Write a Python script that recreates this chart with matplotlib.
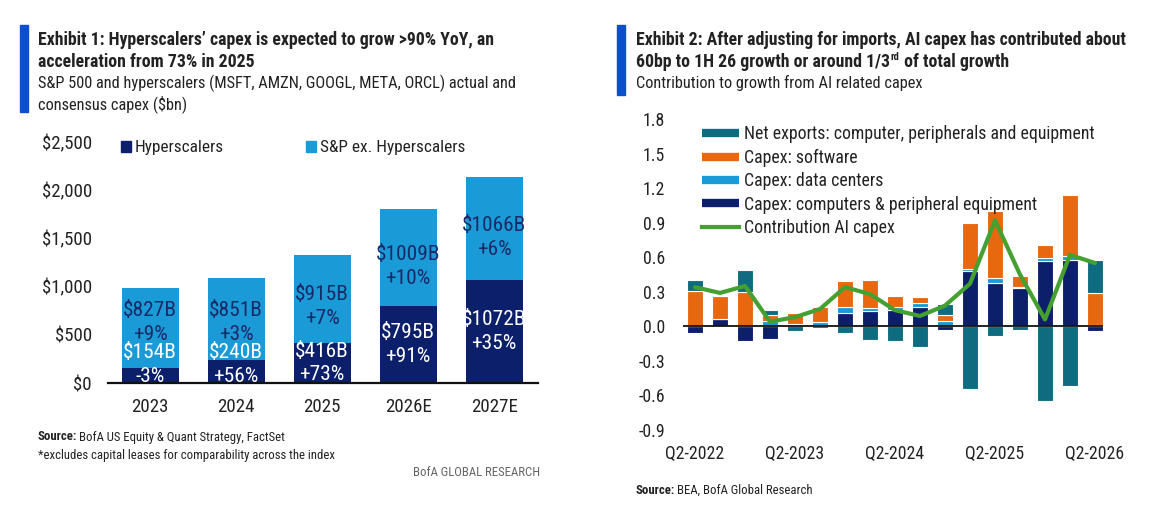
import numpy as np
import matplotlib
matplotlib.use("Agg")
import matplotlib.pyplot as plt
from matplotlib import font_manager
from matplotlib.patches import Rectangle, Patch
from matplotlib.lines import Line2D
from matplotlib.ticker import FuncFormatter

# ---------------- data ----------------
years = ["2023", "2024", "2025", "2026E", "2027E"]
hyperscalers = [154, 240, 416, 795, 1072]
hyper_growth = ["-3%", "+56%", "+73%", "+91%", "+35%"]
sp_ex_hyper = [827, 851, 915, 1009, 1066]
sp_growth = ["+9%", "+3%", "+7%", "+10%", "+6%"]

quarters = ["Q2-2022", "Q3-2022", "Q4-2022", "Q1-2023", "Q2-2023", "Q3-2023",
            "Q4-2023", "Q1-2024", "Q2-2024", "Q3-2024", "Q4-2024", "Q1-2025",
            "Q2-2025", "Q3-2025", "Q4-2025", "Q1-2026", "Q2-2026"]
capex_computers = [-0.06, 0.06, -0.13, -0.11, 0.00, 0.00, 0.12, 0.13, 0.14, 0.165,
                   -0.03, 0.48, 0.375, 0.33, 0.57, 0.58, -0.04]
capex_data_centers = [0.00, 0.00, 0.00, 0.05, 0.02, 0.035, 0.05, 0.03, 0.03, 0.035,
                      0.045, 0.02, 0.045, 0.015, 0.025, 0.03, 0.015]
capex_software = [0.31, 0.20, 0.30, 0.05, 0.10, 0.13, 0.22, 0.24, 0.09, 0.055,
                  0.055, 0.40, 0.585, 0.09, 0.11, 0.53, 0.275]
net_exports = [0.09, 0.00, 0.185, 0.045, -0.04, -0.015, -0.06, -0.12, -0.13, -0.18,
               0.095, -0.54, -0.08, -0.03, -0.65, -0.52, 0.29]
contribution_ai = [0.34, 0.29, 0.35, 0.04, 0.08, 0.15, 0.34, 0.28, 0.14, 0.09,
                   0.18, 0.37, 0.92, 0.45, 0.06, 0.62, 0.55]

# ---------------- style ----------------
NAVY = "#0c1f6b"
LBLUE = "#1a9bd7"
ORANGE = "#e8680f"
TEAL = "#0f6b80"
GREEN = "#44a030"
ACCENT = "#0a50c8"
TXT = "#222222"

# choose a narrow sans family if one is installed
avail = {f.name for f in font_manager.fontManager.ttflist}
FONT = None
for cand in ["Roboto Condensed", "Liberation Sans Narrow", "Noto Sans Condensed",
             "Open Sans Condensed", "DejaVu Sans Condensed", "Lato", "Roboto"]:
    if cand in avail:
        FONT = cand
        break
if FONT is None:
    FONT = "DejaVu Sans"
plt.rcParams["font.family"] = [FONT, "DejaVu Sans"]
plt.rcParams["axes.unicode_minus"] = False

W, H = 1166, 528
PX_PER_PT = 100 / 72.0
def fx(px):
    return px / W
def fy(py):
    return 1 - py / H

fig = plt.figure(figsize=(W / 100, H / 100), dpi=100)
fig.patch.set_facecolor("white")
R = fig.canvas.get_renderer()

def text_width(t):
    return t.get_window_extent(renderer=R).width

def fit_size(s, target_px, weight="normal"):
    t = fig.text(0, 0, s, fontsize=10, fontweight=weight)
    w = text_width(t)
    t.remove()
    return 10.0 * target_px / w

# sizes fitted to the reference's text widths
SZ_TITLE = fit_size("Exhibit 1: Hyperscalers\u2019 capex is expected to grow >90% YoY, an", 455, "bold")
SZ_SUB = fit_size("S&P 500 and hyperscalers (MSFT, AMZN, GOOGL, META, ORCL) actual and", 480)
SZ_TICK_L = fit_size("$2,500", 50)
SZ_TICK_R = fit_size("Q2-2022", 58)
SZ_LEG_L = fit_size("S&P ex. Hyperscalers", 144)
SZ_LEG_R = fit_size("Net exports: computer, peripherals and equipment", 349)
SZ_BARLAB = fit_size("$1009B", 64)
SZ_SRC = fit_size("*excludes capital leases for comparability across the index", 295)

# accent bars
fig.patches.append(Rectangle((fx(20), fy(112)), fx(8), (112 - 25) / H,
                             transform=fig.transFigure, color=ACCENT, zorder=5))
fig.patches.append(Rectangle((fx(617), fy(95)), fx(8), (95 - 25) / H,
                             transform=fig.transFigure, color=ACCENT, zorder=5))

# ---------------- left titles ----------------
fig.text(fx(38), fy(40), "Exhibit 1: Hyperscalers\u2019 capex is expected to grow >90% YoY, an",
         fontsize=SZ_TITLE, fontweight="bold", color=TXT, va="center")
fig.text(fx(38), fy(62), "acceleration from 73% in 2025",
         fontsize=SZ_TITLE, fontweight="bold", color=TXT, va="center")
fig.text(fx(38), fy(83), "S&P 500 and hyperscalers (MSFT, AMZN, GOOGL, META, ORCL) actual and",
         fontsize=SZ_SUB, color=TXT, va="center")
fig.text(fx(38), fy(104), "consensus capex ($bn)", fontsize=SZ_SUB, color=TXT, va="center")

# ---------------- left chart ----------------
ax1 = fig.add_axes([fx(108), fy(383), fx(538) - fx(108), fy(142) - fy(383)])
x1 = np.arange(len(years))
bw1 = 0.66
ax1.bar(x1, hyperscalers, width=bw1, color=NAVY, zorder=2)
ax1.bar(x1, sp_ex_hyper, bottom=hyperscalers, width=bw1, color=LBLUE, zorder=2)
ax1.set_xlim(-0.49, 4.51)
ax1.set_ylim(0, 2500)
ax1.set_yticks(np.arange(0, 2501, 500))
ax1.yaxis.set_major_formatter(FuncFormatter(lambda v, p: "${:,.0f}".format(v)))
ax1.set_xticks(x1)
ax1.set_xticklabels(years)
for s in ["top", "right", "left"]:
    ax1.spines[s].set_visible(False)
ax1.spines["bottom"].set_color("#111111")
ax1.spines["bottom"].set_linewidth(1.6)
ax1.tick_params(axis="y", length=0, labelsize=SZ_TICK_L, pad=16 / PX_PER_PT, colors=TXT)
ax1.tick_params(axis="x", length=0, labelsize=SZ_TICK_L, pad=15 / PX_PER_PT, colors=TXT)

for i in range(len(years)):
    h = hyperscalers[i]
    s = sp_ex_hyper[i]
    yh = max(h / 2, 190)
    ax1.text(x1[i], yh, "${}B\n{}".format(h, hyper_growth[i]), ha="center", va="center",
             color="white", fontsize=SZ_BARLAB, linespacing=1.3, zorder=3)
    ys = max(h + 0.41 * s, yh + 440)
    ax1.text(x1[i], ys, "${}B\n{}".format(s, sp_growth[i]), ha="center", va="center",
             color="#1b2a66", fontsize=SZ_BARLAB, linespacing=1.3, zorder=3)

em_l = SZ_LEG_L * PX_PER_PT
leg1 = ax1.legend(handles=[Patch(color=NAVY, label="Hyperscalers"),
                           Patch(color=LBLUE, label="S&P ex. Hyperscalers")],
                  loc="upper left", bbox_to_anchor=(fx(121), fy(151 - 0.62 * em_l)),
                  bbox_transform=fig.transFigure, ncol=2, frameon=False,
                  fontsize=SZ_LEG_L, handlelength=10 / em_l, handleheight=10 / em_l,
                  handletextpad=4 / em_l, columnspacing=82 / em_l,
                  borderpad=0, borderaxespad=0)
for t in leg1.get_texts():
    t.set_color(TXT)

def source_line(x_px, y_px, rest, size):
    tb = fig.text(fx(x_px), fy(y_px), "Source:", fontsize=size, fontweight="bold",
                  color=TXT, va="center")
    wb = text_width(tb)
    fig.text(fx(x_px) + (wb + 0.12 * size * PX_PER_PT) / W, fy(y_px), rest,
             fontsize=size, color=TXT, va="center")

source_line(38, 437, "BofA US Equity & Quant Strategy, FactSet", SZ_SRC)
fig.text(fx(38), fy(455), "*excludes capital leases for comparability across the index",
         fontsize=SZ_SRC, color=TXT, va="center")
fig.text(fx(540), fy(473), "BofA GLOBAL RESEARCH", fontsize=SZ_SRC, color="#666666",
         va="center", ha="right")

# ---------------- right titles ----------------
fig.text(fx(636), fy(40), "Exhibit 2: After adjusting for imports, AI capex has contributed about",
         fontsize=SZ_TITLE, fontweight="bold", color=TXT, va="center")
t_a = fig.text(fx(636), fy(62), "60bp to 1H 26 growth or around 1/3",
               fontsize=SZ_TITLE, fontweight="bold", color=TXT, va="center")
fig.text(fx(636), fy(83), "Contribution to growth from AI related capex",
         fontsize=SZ_SUB, color=TXT, va="center")
bb = t_a.get_window_extent(renderer=R)
t_b = fig.text(bb.x1 / W + 0.0008, fy(57), "rd", fontsize=SZ_TITLE * 0.6, fontweight="bold",
               color=TXT, va="center")
bb2 = t_b.get_window_extent(renderer=R)
fig.text(bb2.x1 / W, fy(62), " of total growth", fontsize=SZ_TITLE, fontweight="bold",
         color=TXT, va="center")

# ---------------- right chart ----------------
ax2 = fig.add_axes([fx(683), fy(430), fx(1103) - fx(683), fy(119) - fy(430)])
x2 = np.arange(len(quarters))
bw2 = 0.62
pos_b = np.zeros(len(quarters))
neg_b = np.zeros(len(quarters))
series = [(capex_computers, NAVY), (capex_data_centers, LBLUE),
          (capex_software, ORANGE), (net_exports, TEAL)]
for vals, col in series:
    v = np.array(vals, dtype=float)
    bottom = np.where(v >= 0, pos_b, neg_b)
    ax2.bar(x2, v, bottom=bottom, width=bw2, color=col, edgecolor="white",
            linewidth=0.8, zorder=2)
    pos_b += np.clip(v, 0, None)
    neg_b += np.clip(v, None, 0)
ax2.axhline(0, color="#111111", linewidth=1.3, zorder=3)
ax2.plot(x2, contribution_ai, color=GREEN, linewidth=3, zorder=4,
         solid_joinstyle="round", solid_capstyle="round")

def fmt_r(v, p):
    v = round(v, 1)
    if abs(v) < 1e-9:
        v = 0.0
    return "{:.1f}".format(v)

ax2.set_xlim(-0.48, 16.32)
ax2.set_ylim(-0.9, 1.8)
ax2.set_yticks(np.round(np.arange(-0.9, 1.81, 0.3), 1))
ax2.yaxis.set_major_formatter(FuncFormatter(fmt_r))
ax2.set_xticks(x2[::4])
ax2.set_xticklabels(quarters[::4])
for s in ["top", "right", "left", "bottom"]:
    ax2.spines[s].set_visible(False)
ax2.tick_params(axis="y", length=0, labelsize=SZ_TICK_R, pad=18 / PX_PER_PT, colors=TXT)
ax2.tick_params(axis="x", length=0, labelsize=SZ_TICK_R, pad=15 / PX_PER_PT, colors=TXT)

em_r = SZ_LEG_R * PX_PER_PT
handles = [Line2D([0], [0], color=TEAL, linewidth=6, solid_capstyle="butt"),
           Line2D([0], [0], color=ORANGE, linewidth=6, solid_capstyle="butt"),
           Line2D([0], [0], color=LBLUE, linewidth=6, solid_capstyle="butt"),
           Line2D([0], [0], color=NAVY, linewidth=6, solid_capstyle="butt"),
           Line2D([0], [0], color=GREEN, linewidth=3)]
labels = ["Net exports: computer, peripherals and equipment", "Capex: software",
          "Capex: data centers", "Capex: computers & peripheral equipment",
          "Contribution AI capex"]
row_h = 23.25
lab_sp = max((row_h - 1.15 * em_r + 2.6) / em_r, 0.05)
leg2 = ax2.legend(handles, labels, loc="upper left",
                  bbox_to_anchor=(fx(702), fy(136 - 0.6 * em_r)),
                  bbox_transform=fig.transFigure, frameon=False, fontsize=SZ_LEG_R,
                  handlelength=37 / em_r, handletextpad=5 / em_r, labelspacing=lab_sp,
                  borderpad=0, borderaxespad=0)
leg2.set_zorder(6)
for t in leg2.get_texts():
    t.set_color(TXT)

source_line(636, 490, "BEA, BofA Global Research", SZ_SRC)

fig.savefig("out.png", dpi=100, facecolor="white")
